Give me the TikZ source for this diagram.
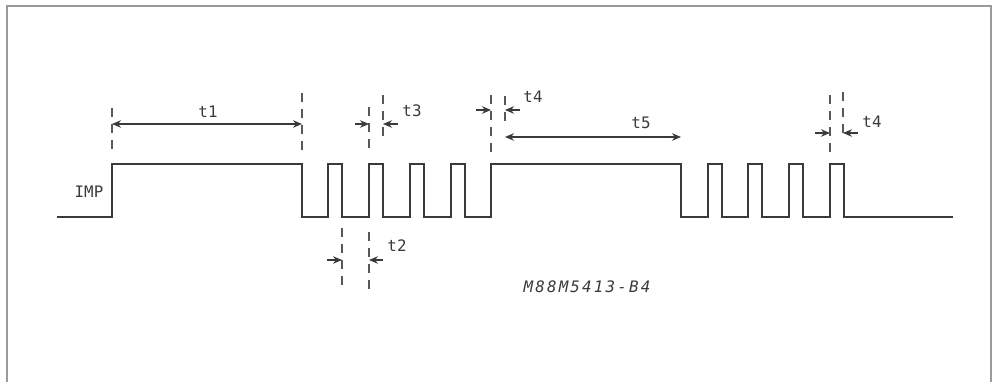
\documentclass[tikz,border=0pt]{standalone}
\usepackage{fontspec}
\usetikzlibrary{arrows.meta}
\newfontfamily\plotfont{DejaVu Sans Mono}
\newfontfamily\codefont[LetterSpace=14]{DejaVu Sans Mono}
\definecolor{ink}{HTML}{3A3A3A}
\definecolor{frame}{HTML}{9A9A9A}
\tikzset{
  font=\plotfont\fontsize{9}{10}\selectfont,
  wave/.style={draw=ink, line width=1.1pt, line join=miter},
  extline/.style={draw=ink!85, line width=0.7pt, dash pattern=on 1.8mm off 1.4mm},
  dimline/.style={draw=ink, line width=0.6pt, -{Stealth[length=1.8mm,width=1.5mm]}},
  dimboth/.style={dimline, {Stealth[length=1.8mm,width=1.5mm]}-{Stealth[length=1.8mm,width=1.5mm]}},
  tag/.style={text=ink, inner sep=0pt},
}

\begin{document}
\begin{tikzpicture}[x=0.2mm, y=-0.2mm]
\useasboundingbox (0,0) rectangle (997,382);
% --- frame, open at the bottom
\draw[draw=frame, line width=0.9pt] (7,382) -- (7,6) -- (991,6) -- (991,382);
% --- IMP waveform (pixel coordinates)
\def\hi{164}
\def\lo{217}
\draw[wave] (57,\lo) -| (112,\hi) -| (302,\lo)
  foreach \x in {328,369,410,451} { -| (\x,\hi) -| (\x+14,\lo) }
  -| (491,\hi) -| (681,\lo)
  foreach \x in {708,748,789,830} { -| (\x,\hi) -| (\x+14,\lo) }
  -- (953,\lo);
\node[tag] (imp) at (89,192) {IMP};
% --- extension lines
\foreach \x/\a/\b in {112/108/149, 302/93/150, 369/107/148, 383/95/136, 342/228/285,
  369/232/289, 491/95/152, 505/96/121, 830/95/152, 843/92/133}
  \draw[extline] (\x,\a) -- (\x,\b);
% --- dimensions
\draw[dimboth] (112,124) -- (302,124);
\node[tag] (t1) at (208,112) {t1};
\draw[dimline] (355,124) -- (369,124);
\draw[dimline] (398,124) -- (383,124);
\node[tag] (t3) at (412,111) {t3};
\draw[dimline] (327,260) -- (342,260);
\draw[dimline] (383,260) -- (369,260);
\node[tag] (t2) at (397,246) {t2};
\draw[dimline] (476,110) -- (491,110);
\draw[dimline] (520,110) -- (505,110);
\node[tag] (t4a) at (533,97) {t4};
\draw[dimboth] (505,137) -- (681,137);
\node[tag] (t5) at (641,123) {t5};
\draw[dimline] (815,133) -- (830,133);
\draw[dimline] (858,133) -- (843,133);
\node[tag] (t4b) at (872,122) {t4};
\node[tag, font=\codefont\itshape\fontsize{9}{10}\selectfont] (code) at (587,287) {M88M5413-B4};
\end{tikzpicture}
\end{document}
